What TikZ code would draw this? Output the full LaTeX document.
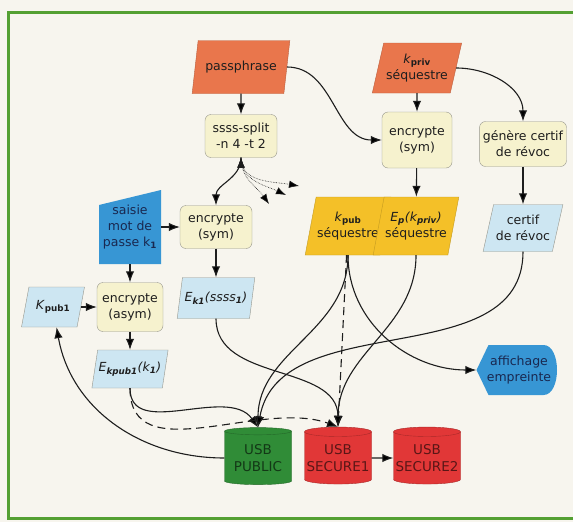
\documentclass[tikz,border=0pt]{standalone}
\usepackage{fontspec}
\setmainfont{DejaVu Sans}
\usetikzlibrary{shapes.geometric,arrows.meta}

\definecolor{paper}{RGB}{247,245,238}
\definecolor{framegreen}{RGB}{84,160,50}
\definecolor{keyorange}{RGB}{233,118,76}
\definecolor{boxfill}{RGB}{246,242,206}
\definecolor{boxline}{RGB}{150,150,140}
\definecolor{gold}{RGB}{244,192,40}
\definecolor{pale}{RGB}{205,230,242}
\definecolor{sky}{RGB}{55,150,212}
\definecolor{navy}{RGB}{25,40,80}
\definecolor{usbgreen}{RGB}{48,140,55}
\definecolor{usbred}{RGB}{225,55,55}
\definecolor{ink}{RGB}{30,30,30}

\newcommand{\lowidx}[1]{\textsubscript{\bfseries #1}}

\begin{document}
\begin{tikzpicture}[x=1pt,y=-1pt]

      \tikzset{para/.style={trapezium, trapezium left angle=70, trapezium right angle=110, trapezium stretches=true, draw=boxline, inner sep=1pt, align=center, text=ink, font=\fontsize{12.5}{16}\selectfont},
               process/.style={draw=boxline, fill=boxfill, rounded corners=6pt, align=center, text=ink, font=\fontsize{12.5}{16}\selectfont},
               inputbox/.style={fill=paper, align=center, text=navy, font=\fontsize{12.5}{16}\selectfont,
                  path picture={\fill[sky] (path picture bounding box.south west) -- (path picture bounding box.south east) -- (path picture bounding box.north east) -- ([yshift=-15pt]path picture bounding box.north west) -- cycle;}},
               display/.style={fill=paper, align=center, text=navy, font=\fontsize{12.5}{16}\selectfont,
                  path picture={\fill[sky] (path picture bounding box.west) -- ([xshift=12pt]path picture bounding box.north west) -- ([xshift=-18pt]path picture bounding box.north east) .. controls (path picture bounding box.north east) and (path picture bounding box.south east) .. ([xshift=-18pt]path picture bounding box.south east) -- ([xshift=12pt]path picture bounding box.south west) -- cycle;}},
               usb/.style={cylinder, shape border rotate=90, aspect=0.15, minimum width=67pt, minimum height=57pt, inner sep=0pt, draw=#1!75!black, fill=#1, text=#1!40!black, align=center, font=\fontsize{13.5}{17}\selectfont},
               flow/.style={draw=ink, line width=1.1pt, -{Latex[length=11pt,width=8.5pt]}},
               longdash/.style={dash pattern=on 8pt off 5pt},
               dotflow/.style={draw=ink, line width=0.6pt, densely dotted, -{Latex[length=10pt,width=7.5pt]}}}

%% Background and frame
      \useasboundingbox (0,0) rectangle (573,522);
      \fill[paper] (0,0) rectangle (573,522);
      \draw[framegreen, line width=3pt] (573,12) -- (8,12) -- (8,518) -- (573,518);

%% Keys and inputs
      \node[para, fill=keyorange, draw=keyorange!80!black, minimum width=98pt, minimum height=53pt] (pass) at (241,67) {passphrase};
      \node[para, fill=keyorange, draw=keyorange!80!black, minimum width=90pt, minimum height=50pt] (kpriv) at (417,68) {\textit{k}\lowidx{priv}\\séquestre};
      \node[inputbox, minimum width=62pt, minimum height=74pt] (saisie) at (130,227) {saisie\\mot de\\passe k\lowidx{1}};
      \node[para, fill=pale, minimum width=63pt, minimum height=40pt] (kpub) at (53,307) {\textit{K}\lowidx{pub1}};

%% Processing
      \node[process, minimum width=72pt, minimum height=43pt] (ssss) at (241,136) {ssss-split\\-n 4 -t 2};
      \node[process, minimum width=70pt, minimum height=56pt] (encR) at (417,140) {encrypte\\(sym)};
      \node[process, minimum width=83pt, minimum height=45pt] (genere) at (523,144) {génère certif\\de révoc};
      \node[process, minimum width=72pt, minimum height=43pt] (encM) at (216,227) {encrypte\\(sym)};
      \node[process, minimum width=66pt, minimum height=49pt] (encA) at (130,307) {encrypte\\(asym)};

%% Results
      \node[para, fill=gold, draw=gold!80!black, minimum width=77pt, minimum height=58pt] (ksub) at (348,226) {\textit{k}\lowidx{pub}\\séquestre};
      \node[para, fill=gold, draw=gold!80!black, minimum width=82pt, minimum height=58pt] (ep) at (416,226) {\textit{E\lowidx{p}(k\lowidx{priv})}\\séquestre};
      \node[para, fill=pale, minimum width=80pt, minimum height=47pt] (certif) at (523,228) {certif\\de révoc};
      \node[para, fill=pale, minimum width=78pt, minimum height=41pt] (ek1) at (216,298) {\textit{E\lowidx{k1}(ssss\lowidx{1})}};
      \node[para, fill=pale, minimum width=70pt, minimum height=38pt] (ekpub) at (130,369) {\textit{E\lowidx{kpub1}(k\lowidx{1})}};
      \node[display, minimum width=85pt, minimum height=50pt] (aff) at (519,370) {affichage\\empreinte};

%% Storage
      \node[usb=usbgreen] (pub) at (258,458) {USB\\PUBLIC};
      \node[usb=usbred] (sec1) at (338,458) {USB\\SECURE1};
      \node[usb=usbred] (sec2) at (427,458) {USB\\SECURE2};

%% Free ends of the other shares
      \coordinate (d1) at (299,186);
      \coordinate (d2) at (286,195);
      \coordinate (d3) at (269,204);

%Edges
      \path[flow] (pass) edge (ssss);
      \path[flow] (pass) edge[out=0, in=180] (encR);
      \path[flow] (kpriv) edge (encR);
      \path[flow] (kpriv) edge[out=0, in=90] (genere);
      \path[flow] (ssss) edge[out=-90, in=90] (encM);
      \path[dotflow] (ssss.south) edge[out=-90, in=170] (d1);
      \path[dotflow] (ssss.south) edge[out=-90, in=155] (d2);
      \path[dotflow] (ssss.south) edge[out=-90, in=125] (d3);
      \path[flow] (saisie) edge (encM);
      \path[flow] (saisie) edge (encA);
      \path[flow] (kpub) edge (encA);
      \path[flow] (encM) edge (ek1);
      \path[flow] (encR) edge (ep);
      \path[flow] (genere) edge (certif);
      \path[flow] (encA) edge (ekpub);
      \path[flow] (ekpub) edge[out=-90, in=125] (pub.north);
      \path[flow, longdash] (ekpub) edge[out=-90, in=160] (sec1.north);
      \path[flow] (ek1) edge[out=-90, in=90] (sec1.north);
      \path[flow] (ksub) edge[out=-90, in=90] (pub.north);
      \path[flow] (ksub) edge[out=-90, in=180] (aff);
      \path[flow, longdash] (ksub) edge (sec1.north);
      \path[flow] (ep) edge[out=-90, in=90] (sec1.north);
      \path[flow] (certif) edge[out=-90, in=80] (pub.north);
      \path[flow] (pub) edge[out=180, in=-80] (kpub);
      \path[flow] (sec1) edge (sec2);

\end{tikzpicture}
\end{document}
